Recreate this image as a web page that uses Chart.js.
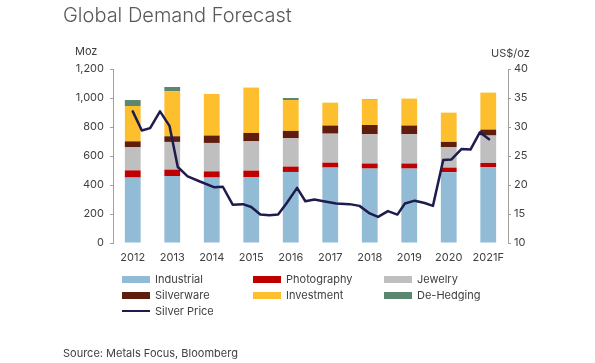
<!DOCTYPE html>
<html>
<head>
<meta charset="utf-8">
<script src="https://cdn.jsdelivr.net/npm/chart.js@4.4.1/dist/chart.umd.min.js"></script>
<style>
  html, body { margin: 0; padding: 0; background: #fff; }
  #wrap { position: relative; width: 595px; height: 363px; overflow: hidden; font-family: "Inter", "Roboto", sans-serif; }
  #c { position: absolute; left: 0; top: 0; }
  .txt { position: absolute; white-space: nowrap; color: #404040; }
  #title { left: 63px; top: 5px; font-size: 20px; line-height: 20px; font-weight: 300; color: #595959; }
  #ylab { left: 75px; top: 45px; font-size: 11px; line-height: 12px; }
  #y2lab { left: 491px; top: 47px; font-size: 11px; line-height: 12px; }
  #source { left: 63px; top: 346px; font-size: 11px; line-height: 14px; }
  .lg { position: absolute; font-size: 11px; line-height: 12px; color: #404040; white-space: nowrap; }
  .lg span.sw { position: absolute; left: 0; width: 28px; }
  .lg span.tx { position: absolute; left: 33px; top: -6px; }
</style>
</head>
<body>
<div id="wrap">
  <canvas id="c" width="595" height="363"></canvas>
  <div id="title" class="txt">Global Demand Forecast</div>
  <div id="ylab" class="txt">Moz</div>
  <div id="y2lab" class="txt">US$/oz</div>
  <div id="legend"></div>
  <div id="source" class="txt">Source: Metals Focus, Bloomberg</div>
</div>
<script>
// ---- Data ----
const years = ['2012', '2013', '2014', '2015', '2016', '2017', '2018', '2019', '2020', '2021F'];
const industrial  = [451, 462, 451, 455, 490, 520, 513, 513, 488, 524];
const photography = [50, 44, 43, 44, 37, 34, 35, 35, 32, 28];
const jewelry     = [161, 191, 196, 202, 195, 200, 202, 202, 142, 189];
const silverware  = [39, 39, 51, 58, 51, 56, 64, 60, 35, 41];
const investment  = [244, 310, 287, 313, 213, 158, 175, 186, 202, 255];
const deHedging   = [41, 30, 0, 0, 14, 0, 4, 0, 0, 0];

const priceTimes = [2012.00, 2012.23, 2012.44, 2012.69, 2012.93, 2013.14, 2013.39, 2013.70, 2014.07, 2014.28,
                    2014.53, 2014.79, 2015.00, 2015.23, 2015.46, 2015.68, 2015.89, 2016.16, 2016.37, 2016.60,
                    2016.83, 2017.15, 2017.49, 2017.74, 2018.00, 2018.21, 2018.46, 2018.70, 2018.89, 2019.14,
                    2019.39, 2019.60, 2019.86, 2020.07, 2020.32, 2020.55, 2020.79, 2021.02];
const silverPrice = [32.7, 29.4, 29.8, 32.7, 30.2, 23.1, 21.5, 20.6, 19.6, 19.7,
                     16.6, 16.7, 16.2, 14.9, 14.8, 14.9, 16.8, 19.5, 17.2, 17.5,
                     17.2, 16.8, 16.7, 16.4, 15.1, 14.5, 15.5, 14.9, 16.8, 17.3,
                     16.9, 16.4, 24.3, 24.4, 26.2, 26.1, 29.1, 27.9];

const leftTicks = { min: 0, max: 1200, step: 200 };
const rightTicks = { min: 10, max: 40, step: 5 };

const colors = {
  industrial: '#92BCD6', photography: '#C00000', jewelry: '#BFBFBF',
  silverware: '#5F1D0E', investment: '#FDBF2D', deHedging: '#5B8770', price: '#1E1B4F'
};

const barCommon = { type: 'bar', xAxisID: 'x', yAxisID: 'y', stack: 's', order: 1, grouped: false,
                    categoryPercentage: 1.0, barPercentage: 0.4, borderWidth: 0 };

const data = {
  labels: years,
  datasets: [
    { ...barCommon, label: 'Industrial', data: industrial, backgroundColor: colors.industrial },
    { ...barCommon, label: 'Photography', data: photography, backgroundColor: colors.photography },
    { ...barCommon, label: 'Jewelry', data: jewelry, backgroundColor: colors.jewelry },
    { ...barCommon, label: 'Silverware', data: silverware, backgroundColor: colors.silverware },
    { ...barCommon, label: 'Investment', data: investment, backgroundColor: colors.investment },
    { ...barCommon, label: 'De-Hedging', data: deHedging, backgroundColor: colors.deHedging },
    { type: 'line', label: 'Silver Price', xAxisID: 'xl', yAxisID: 'y2', order: 0,
      data: priceTimes.map((t, i) => ({ x: t, y: silverPrice[i] })),
      borderColor: colors.price, backgroundColor: colors.price, borderWidth: 2.5,
      pointRadius: 0, tension: 0, borderJoinStyle: 'round', borderCapStyle: 'round' }
  ]
};

const tickFont = { family: 'Inter', size: 11 };
const tickColor = '#404040';
const axisColor = '#A0A0A0';

const chart = new Chart(document.getElementById('c'), {
  data,
  options: {
    responsive: false,
    animation: false,
    layout: { padding: { top: 69, left: 0, right: 0, bottom: 0 } },
    plugins: { legend: { display: false }, tooltip: { enabled: false }, title: { display: false } },
    scales: {
      x: {
        type: 'category', stacked: true, position: 'bottom',
        grid: { display: false, drawTicks: false }, border: { display: false },
        ticks: { font: tickFont, color: tickColor, padding: 8, maxRotation: 0, autoSkip: false },
        afterFit: s => { s.height = 120; }
      },
      xl: {
        type: 'linear', display: false, position: 'bottom',
        min: 2011.5, max: 2021.5
      },
      y: {
        type: 'linear', stacked: true, position: 'left',
        min: leftTicks.min, max: leftTicks.max,
        grid: { drawOnChartArea: false, drawTicks: true, tickLength: 3, color: axisColor },
        border: { display: true, color: axisColor, width: 1 },
        ticks: { stepSize: leftTicks.step, font: tickFont, color: tickColor, padding: 6 },
        afterFit: s => { s.width = 113; }
      },
      y2: {
        type: 'linear', position: 'right',
        min: rightTicks.min, max: rightTicks.max,
        grid: { drawOnChartArea: false, drawTicks: true, tickLength: 3, color: axisColor },
        border: { display: true, color: axisColor, width: 1 },
        ticks: { stepSize: rightTicks.step, font: tickFont, color: tickColor, padding: 3 },
        afterFit: s => { s.width = 87; }
      }
    }
  }
});

// ---- HTML legend built from the chart's datasets ----
const colX = [122, 253, 384];
const rowY = [279, 295, 311];
const legendEl = document.getElementById('legend');
chart.data.datasets.forEach((ds, i) => {
  const item = document.createElement('div');
  item.className = 'lg';
  item.style.left = colX[i % 3] + 'px';
  item.style.top = rowY[Math.floor(i / 3)] + 'px';
  const sw = document.createElement('span');
  sw.className = 'sw';
  const isLine = ds.type === 'line';
  const h = isLine ? 2 : 7;
  sw.style.height = h + 'px';
  sw.style.top = (-h / 2) + 'px';
  sw.style.background = isLine ? ds.borderColor : ds.backgroundColor;
  const tx = document.createElement('span');
  tx.className = 'tx';
  tx.textContent = ds.label;
  item.appendChild(sw);
  item.appendChild(tx);
  legendEl.appendChild(item);
});
</script>
</body>
</html>
